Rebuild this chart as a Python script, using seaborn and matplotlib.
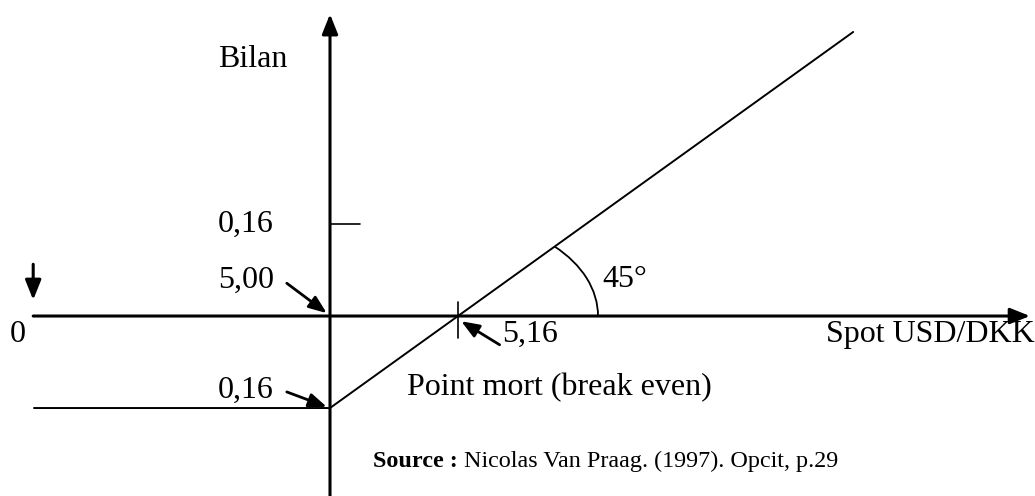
import matplotlib
matplotlib.use("Agg")
import matplotlib.pyplot as plt
import matplotlib.patches as mpatches
import seaborn as sns
import pandas as pd

# Payoff of a long call (strike 5,00, premium 0,16) - values from the figure
spot = [4.63, 5.00, 5.654]
bilan = [-0.16, -0.16, 0.494]
strike = 5.00
premium = 0.16
break_even = 5.16

# axis extent of the diagram
x_axis_left, x_axis_right = 4.629, 5.875
y_axis_bottom, y_axis_top = -0.313, 0.525

sns.set_theme(style="white")
plt.rcParams["font.family"] = ["Liberation Serif", "DejaVu Serif"]

fig = plt.figure(figsize=(10.35, 4.96), dpi=100)
ax = fig.add_axes([0, 0, 1, 1])
ax.set_xlim(4.5875, 5.88125)
ax.set_ylim(-0.313, 0.5496)
ax.axis("off")

df = pd.DataFrame({"spot": spot, "bilan": bilan})
sns.lineplot(data=df, x="spot", y="bilan", sort=False, color="black", lw=1.4, ax=ax)

arrow = dict(arrowstyle="-|>,head_length=1.0,head_width=0.4", color="black", lw=2.2, shrinkA=0, shrinkB=0)
# axes
ax.annotate("", xy=(x_axis_right, 0), xytext=(x_axis_left, 0), arrowprops=arrow)
ax.annotate("", xy=(strike, y_axis_top), xytext=(strike, y_axis_bottom), arrowprops=arrow)
# down arrow on the left
ax.annotate("", xy=(x_axis_left, 0.028), xytext=(x_axis_left, 0.09), arrowprops=arrow)

# small ticks
ax.plot([strike, strike + 0.0375], [premium, premium], color="black", lw=1.2)
ax.plot([break_even, break_even], [0.024, -0.038], color="black", lw=1.2)

# 45 degree arc
ax.add_patch(mpatches.Arc((break_even, 0), 0.35, 0.334, theta1=0, theta2=45,
                          color="black", lw=1.3))

small = dict(arrowstyle="-|>,head_length=0.9,head_width=0.35", color="black", lw=2, shrinkA=0, shrinkB=0)
ax.annotate("", xy=(strike - 0.004, 0.005), xytext=(strike - 0.054, 0.057), arrowprops=small)
ax.annotate("", xy=(strike - 0.004, -0.158), xytext=(strike - 0.054, -0.132), arrowprops=small)
ax.annotate("", xy=(break_even + 0.004, -0.009), xytext=(break_even + 0.052, -0.05), arrowprops=small)

fs = 23
kw = dict(fontsize=fs, color="black", va="baseline")
ax.text(4.86, 0.433, "Bilan", ha="left", **kw)
ax.text(4.86, 0.146, "0,16", ha="left", **kw)
ax.text(4.86, 0.0487, "5,00", ha="left", **kw)
ax.text(4.86, -0.1426, "0,16", ha="left", **kw)
ax.text(4.5995, -0.0452, "0", ha="left", **kw)
ax.text(5.215, -0.0452, "5,16", ha="left", **kw)
ax.text(5.341, 0.0504, "45°", ha="left", **kw)
ax.text(5.88125, -0.0452, "Spot USD/DKK", ha="right", **kw)
ax.text(5.096, -0.137, "Point mort (break even)", ha="left", **kw)

src = ax.text(5.054, -0.263, "Source :", fontsize=17.4, fontweight="bold",
              color="black", ha="left", va="baseline")
ax.annotate(" Nicolas Van Praag. (1997). Opcit, p.29", xy=(1, 0), xycoords=src,
            fontsize=17.4, color="black", ha="left", va="bottom")
fig.savefig("out.png", dpi=100)
